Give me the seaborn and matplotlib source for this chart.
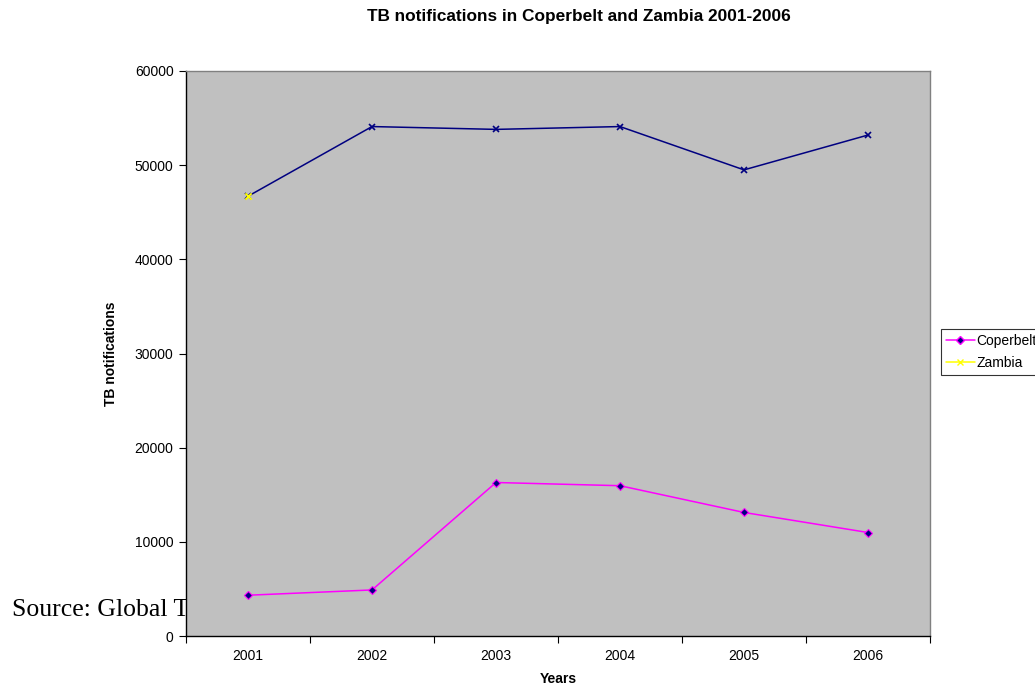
import matplotlib
matplotlib.use("Agg")
import matplotlib.pyplot as plt
from matplotlib.lines import Line2D
import seaborn as sns
import pandas as pd
import numpy as np

years = ["2001", "2002", "2003", "2004", "2005", "2006"]
coperbelt = [4330, 4890, 16300, 15960, 13120, 10990]
zambia = [46700, 54100, 53800, 54100, 49500, 53200]
yticks = [0, 10000, 20000, 30000, 40000, 50000, 60000]

sns.set_theme(style="white")
plt.rcParams["font.family"] = ["Liberation Sans", "DejaVu Sans"]
plt.rcParams["text.color"] = "black"
plt.rcParams["axes.labelcolor"] = "black"

fig = plt.figure(figsize=(10.35, 6.85), dpi=100)
ax = fig.add_axes([186/1035, 1-636/685, 744/1035, 565/685])
ax.set_facecolor("#C0C0C0")

df = pd.DataFrame({"Years": years, "Coperbelt": coperbelt, "Zambia": zambia})

sns.lineplot(data=df, x="Years", y="Zambia", ax=ax, color="#000080", lw=1.1,
             marker="x", markersize=4, markeredgewidth=1.2, markeredgecolor="#000080",
             sort=False)
sns.lineplot(data=df, x="Years", y="Coperbelt", ax=ax, color="#FF00FF", lw=1.1,
             marker="D", markersize=4, markerfacecolor="#000080",
             markeredgecolor="#FF00FF", markeredgewidth=0.8, sort=False)
# first Zambia marker shown in yellow
sns.scatterplot(x=[years[0]], y=[zambia[0]], ax=ax, marker="x", color="#FFFF00",
                s=20, linewidth=1.4, zorder=5)

ax.set_xlim(-0.5, 5.5)
ax.set_ylim(0, 60000)
ax.set_xticks(np.arange(-0.5, 6, 1))
ax.set_xticklabels([])
ax.set_xticks(np.arange(0, 6), minor=True)
ax.set_xticklabels(years, minor=True)
ax.tick_params(axis="x", which="major", direction="out", length=5, width=0.8, color="black", bottom=True)
ax.tick_params(axis="x", which="minor", length=0, pad=9, labelsize=10, labelcolor="black")
ax.set_yticks(yticks)
ax.set_yticklabels([str(v) for v in yticks])
ax.tick_params(axis="y", direction="out", length=5, width=0.8, color="black", left=True,
               labelsize=10, labelcolor="black", pad=4)

for s in ["left", "bottom"]:
    ax.spines[s].set_color("black")
    ax.spines[s].set_linewidth(1.0)
for s in ["top", "right"]:
    ax.spines[s].set_color("#808080")
    ax.spines[s].set_linewidth(1.0)
ax.grid(False)

ax.set_xlabel("Years", fontsize=10, fontweight="bold", labelpad=7, color="black")
ax.set_ylabel("TB notifications", fontsize=10, fontweight="bold", labelpad=12, color="black")
fig.text(579/1035, 1-17/685, "TB notifications in Coperbelt and Zambia 2001-2006",
         ha="center", va="center", fontsize=12.4, fontweight="bold", color="black")

fig.text(12/1035, 1-616/685, "Source: Global TB Control Report", fontsize=18.5,
         family=["Liberation Serif"], ha="left", va="baseline", zorder=-1, color="black")

handles = [
    Line2D([], [], color="#FF00FF", lw=1.1, marker="D", markersize=4,
           markerfacecolor="#000080", markeredgecolor="#FF00FF"),
    Line2D([], [], color="#FFFF00", lw=1.1, marker="x", markersize=4,
           markeredgecolor="#FFFF00"),
]
leg = fig.legend(handles, ["Coperbelt", "Zambia"], loc="upper left",
                 bbox_to_anchor=(941/1035, 1-329/685), fontsize=10, frameon=True,
                 fancybox=False, edgecolor="black", borderpad=0.35, handlelength=2.1,
                 handletextpad=0.1, labelspacing=0.6, borderaxespad=0)
leg.get_frame().set_linewidth(0.8)
for t in leg.get_texts():
    t.set_color("black")

fig.savefig("out.png", dpi=100)
